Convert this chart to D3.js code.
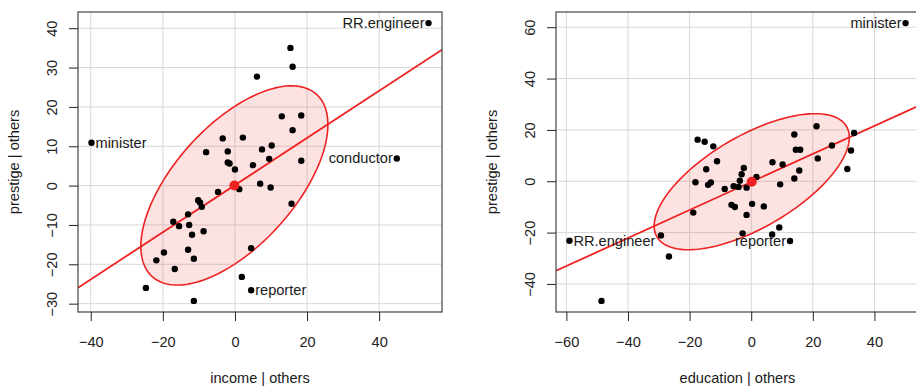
<!DOCTYPE html>
<html>
<head>
<meta charset="utf-8">
<script src="https://cdn.jsdelivr.net/npm/d3@7"></script>
<style>
  body { margin: 0; background: #fff; }
  svg { display: block; font-family: "Liberation Sans", Arial, sans-serif; }
</style>
</head>
<body>
<div id="chart"></div>
<script>
// added-variable plots: prestige against income and education, each adjusted for the other

// income | others (first four points carry labels)
const incomeNames = ["RR.engineer", "minister", "conductor", "reporter"];
const incomeX = [53.7, -39.8, 44.9, 4.5, 15.4, 16.0, 6.1, 13.0, 18.4, 16.0, -3.4, 2.2, -8.0, -2.0, 7.5, 10.2,
  18.4, 9.5, -2.0, -1.5, 5.0, 0.0, 7.0, 9.9, 1.2, -4.7, -10.2, -9.7, -9.2, 15.7, -13.0, -17.1, -15.5, -12.7,
  -11.9, -8.7, -19.7, -21.8, -13.0, -11.4, -16.7, 4.5, 1.9, -24.7, -11.4];
const incomeY = [41.3, 10.9, 6.9, -26.6, 35.0, 30.2, 27.7, 17.6, 17.8, 14.1, 12.0, 12.2, 8.5, 8.7, 9.2, 10.2,
  6.3, 6.8, 5.9, 5.6, 5.2, 4.1, 0.5, -0.5, -0.9, -1.6, -3.7, -4.3, -5.4, -4.6, -7.3, -9.2, -10.3, -10.0,
  -12.5, -11.6, -17.0, -19.0, -16.3, -18.6, -21.2, -15.9, -23.2, -26.0, -29.3];

// education | others (first three points carry labels)
const educationNames = ["minister", "RR.engineer", "reporter"];
const educationX = [50.1, -59.0, 12.6, 21.2, 14.0, 33.4, -17.4, -15.1, -12.3, 14.5, 15.9, 26.2, 32.4, -11.1,
  21.6, 6.9, 10.2, -14.6, -2.4, 15.6, 31.2, -3.1, 1.7, 14.0, -18.1, -14.0, -13.1, -3.7, 9.4, -8.6, -5.7, -4.1,
  -1.5, -6.4, -5.3, 0.3, 4.1, -1.5, -18.8, -29.3, -26.7, -2.8, 6.8, 9.1, -48.6];
const educationY = [61.6, -23.2, -23.3, 21.4, 18.2, 18.8, 16.2, 15.4, 13.6, 12.3, 12.3, 13.9, 12.0, 7.8, 8.9,
  7.4, 6.5, 4.7, 5.2, 4.2, 4.8, 2.7, 1.7, 1.1, -0.4, -1.4, -0.5, 0.2, -1.2, -3.0, -1.9, -2.2, -2.5, -9.2,
  -10.0, -8.8, -9.8, -13.1, -12.2, -21.1, -29.3, -20.3, -20.7, -18.0, -46.6];

// partial regression slopes
const incomeSlope = 0.599;
const educationSlope = 0.546;

const incomeTicksX = [-40, -20, 0, 20, 40];
const incomeTicksY = [-30, -20, -10, 0, 10, 20, 30, 40];
const educationTicksX = [-60, -40, -20, 0, 20, 40];
const educationTicksY = [-40, -20, 0, 20, 40, 60];

const ellipseRadius = 1.54;

const width = 916, height = 388;
const fontSize = 14.6;
const red = "#ee2222";

const svg = d3.select("#chart").append("svg")
  .attr("width", width)
  .attr("height", height);

// extend range by 4% on each side, like R does
function padded(v) {
  const [lo, hi] = d3.extent(v);
  const d = (hi - lo) * 0.04;
  return [lo - d, hi + d];
}

function panel(opt) {
  const { left, right, top, bottom, xs, ys, names, slope, ticksX, ticksY, xTitle, id } = opt;

  const x = d3.scaleLinear().domain(padded(xs)).range([left, right]);
  const y = d3.scaleLinear().domain(padded(ys)).range([bottom, top]);
  const pts = xs.map((v, i) => ({ x: v, y: ys[i], name: names[i] || "" }));

  svg.append("clipPath").attr("id", id)
    .append("rect")
    .attr("x", left).attr("y", top)
    .attr("width", right - left).attr("height", bottom - top);

  const g = svg.append("g");

  // grid
  g.append("g").selectAll("line").data(ticksX).join("line")
    .attr("x1", d => x(d)).attr("x2", d => x(d))
    .attr("y1", top).attr("y2", bottom)
    .attr("stroke", "#d8d8d8").attr("stroke-width", 1);
  g.append("g").selectAll("line").data(ticksY).join("line")
    .attr("x1", left).attr("x2", right)
    .attr("y1", d => y(d)).attr("y2", d => y(d))
    .attr("stroke", "#d8d8d8").attr("stroke-width", 1);

  // data ellipse from the covariance matrix (Cholesky factor)
  const mx = d3.mean(xs), my = d3.mean(ys);
  const n = xs.length;
  const sxx = d3.sum(xs, v => (v - mx) ** 2) / (n - 1);
  const syy = d3.sum(ys, v => (v - my) ** 2) / (n - 1);
  const sxy = d3.sum(xs, (v, i) => (v - mx) * (ys[i] - my)) / (n - 1);
  const l11 = Math.sqrt(sxx), l21 = sxy / l11, l22 = Math.sqrt(syy - l21 * l21);
  const ring = d3.range(0, 2 * Math.PI, Math.PI / 90).map(t => {
    const c = Math.cos(t) * ellipseRadius, s = Math.sin(t) * ellipseRadius;
    return [x(mx + l11 * c), y(my + l21 * c + l22 * s)];
  });
  const plot = g.append("g").attr("clip-path", `url(#${id})`);
  plot.append("path")
    .attr("d", d3.line().curve(d3.curveLinearClosed)(ring))
    .attr("fill", red).attr("fill-opacity", 0.13)
    .attr("stroke", red).attr("stroke-width", 1.6);

  // least-squares line through the centroid
  const [x0, x1] = x.domain();
  plot.append("line")
    .attr("x1", x(x0)).attr("y1", y(my + slope * (x0 - mx)))
    .attr("x2", x(x1)).attr("y2", y(my + slope * (x1 - mx)))
    .attr("stroke", red).attr("stroke-width", 1.8);

  // points
  plot.append("g").selectAll("circle").data(pts).join("circle")
    .attr("cx", d => x(d.x)).attr("cy", d => y(d.y))
    .attr("r", 3.2).attr("fill", "#000");

  plot.append("circle")
    .attr("cx", x(mx)).attr("cy", y(my))
    .attr("r", 5).attr("fill", red);

  // labels: left of the point on the right half, right of it otherwise
  const mid = (x0 + x1) / 2;
  g.append("g").selectAll("text").data(pts.filter(d => d.name)).join("text")
    .attr("x", d => x(d.x) + (d.x > mid ? -4 : 4))
    .attr("y", d => y(d.y) + 5)
    .attr("text-anchor", d => d.x > mid ? "end" : "start")
    .attr("font-size", fontSize).attr("fill", "#1a1a1a")
    .text(d => d.name);

  // box
  g.append("rect")
    .attr("x", left).attr("y", top)
    .attr("width", right - left).attr("height", bottom - top)
    .attr("fill", "none").attr("stroke", "#444").attr("stroke-width", 1.2);

  // axes
  const ax = g.append("g").attr("transform", `translate(0,${bottom})`)
    .call(d3.axisBottom(x).tickValues(ticksX).tickSize(9).tickPadding(6).tickFormat(d3.format("d")));
  const ay = g.append("g").attr("transform", `translate(${left},0)`)
    .call(d3.axisLeft(y).tickValues(ticksY).tickSize(9).tickFormat(d3.format("d")));
  [ax, ay].forEach(a => {
    a.select(".domain").remove();
    a.selectAll(".tick line").attr("stroke", "#222");
    a.selectAll(".tick text").attr("font-size", fontSize).attr("fill", "#222").attr("font-family", null);
  });
  ax.selectAll(".tick text").attr("dy", null).attr("y", 0)
    .attr("transform", "translate(0,34.5)");
  ay.selectAll(".tick text")
    .attr("x", null).attr("dy", null)
    .attr("text-anchor", "middle")
    .attr("transform", "translate(-20.8,0) rotate(-90)");

  // axis titles
  g.append("text")
    .attr("x", (left + right) / 2).attr("y", 382.5)
    .attr("text-anchor", "middle")
    .attr("font-size", fontSize).attr("fill", "#1a1a1a")
    .text(xTitle);
  g.append("text")
    .attr("transform", `translate(${left - 59.5},${(top + bottom) / 2}) rotate(-90)`)
    .attr("text-anchor", "middle")
    .attr("font-size", fontSize).attr("fill", "#1a1a1a")
    .text("prestige | others");
}

panel({
  id: "clip-income", left: 78, right: 442, top: 12, bottom: 312,
  xs: incomeX, ys: incomeY, names: incomeNames, slope: incomeSlope,
  ticksX: incomeTicksX, ticksY: incomeTicksY, xTitle: "income | others"
});

panel({
  id: "clip-education", left: 556, right: 919, top: 12, bottom: 312,
  xs: educationX, ys: educationY, names: educationNames, slope: educationSlope,
  ticksX: educationTicksX, ticksY: educationTicksY, xTitle: "education | others"
});
</script>
</body>
</html>
